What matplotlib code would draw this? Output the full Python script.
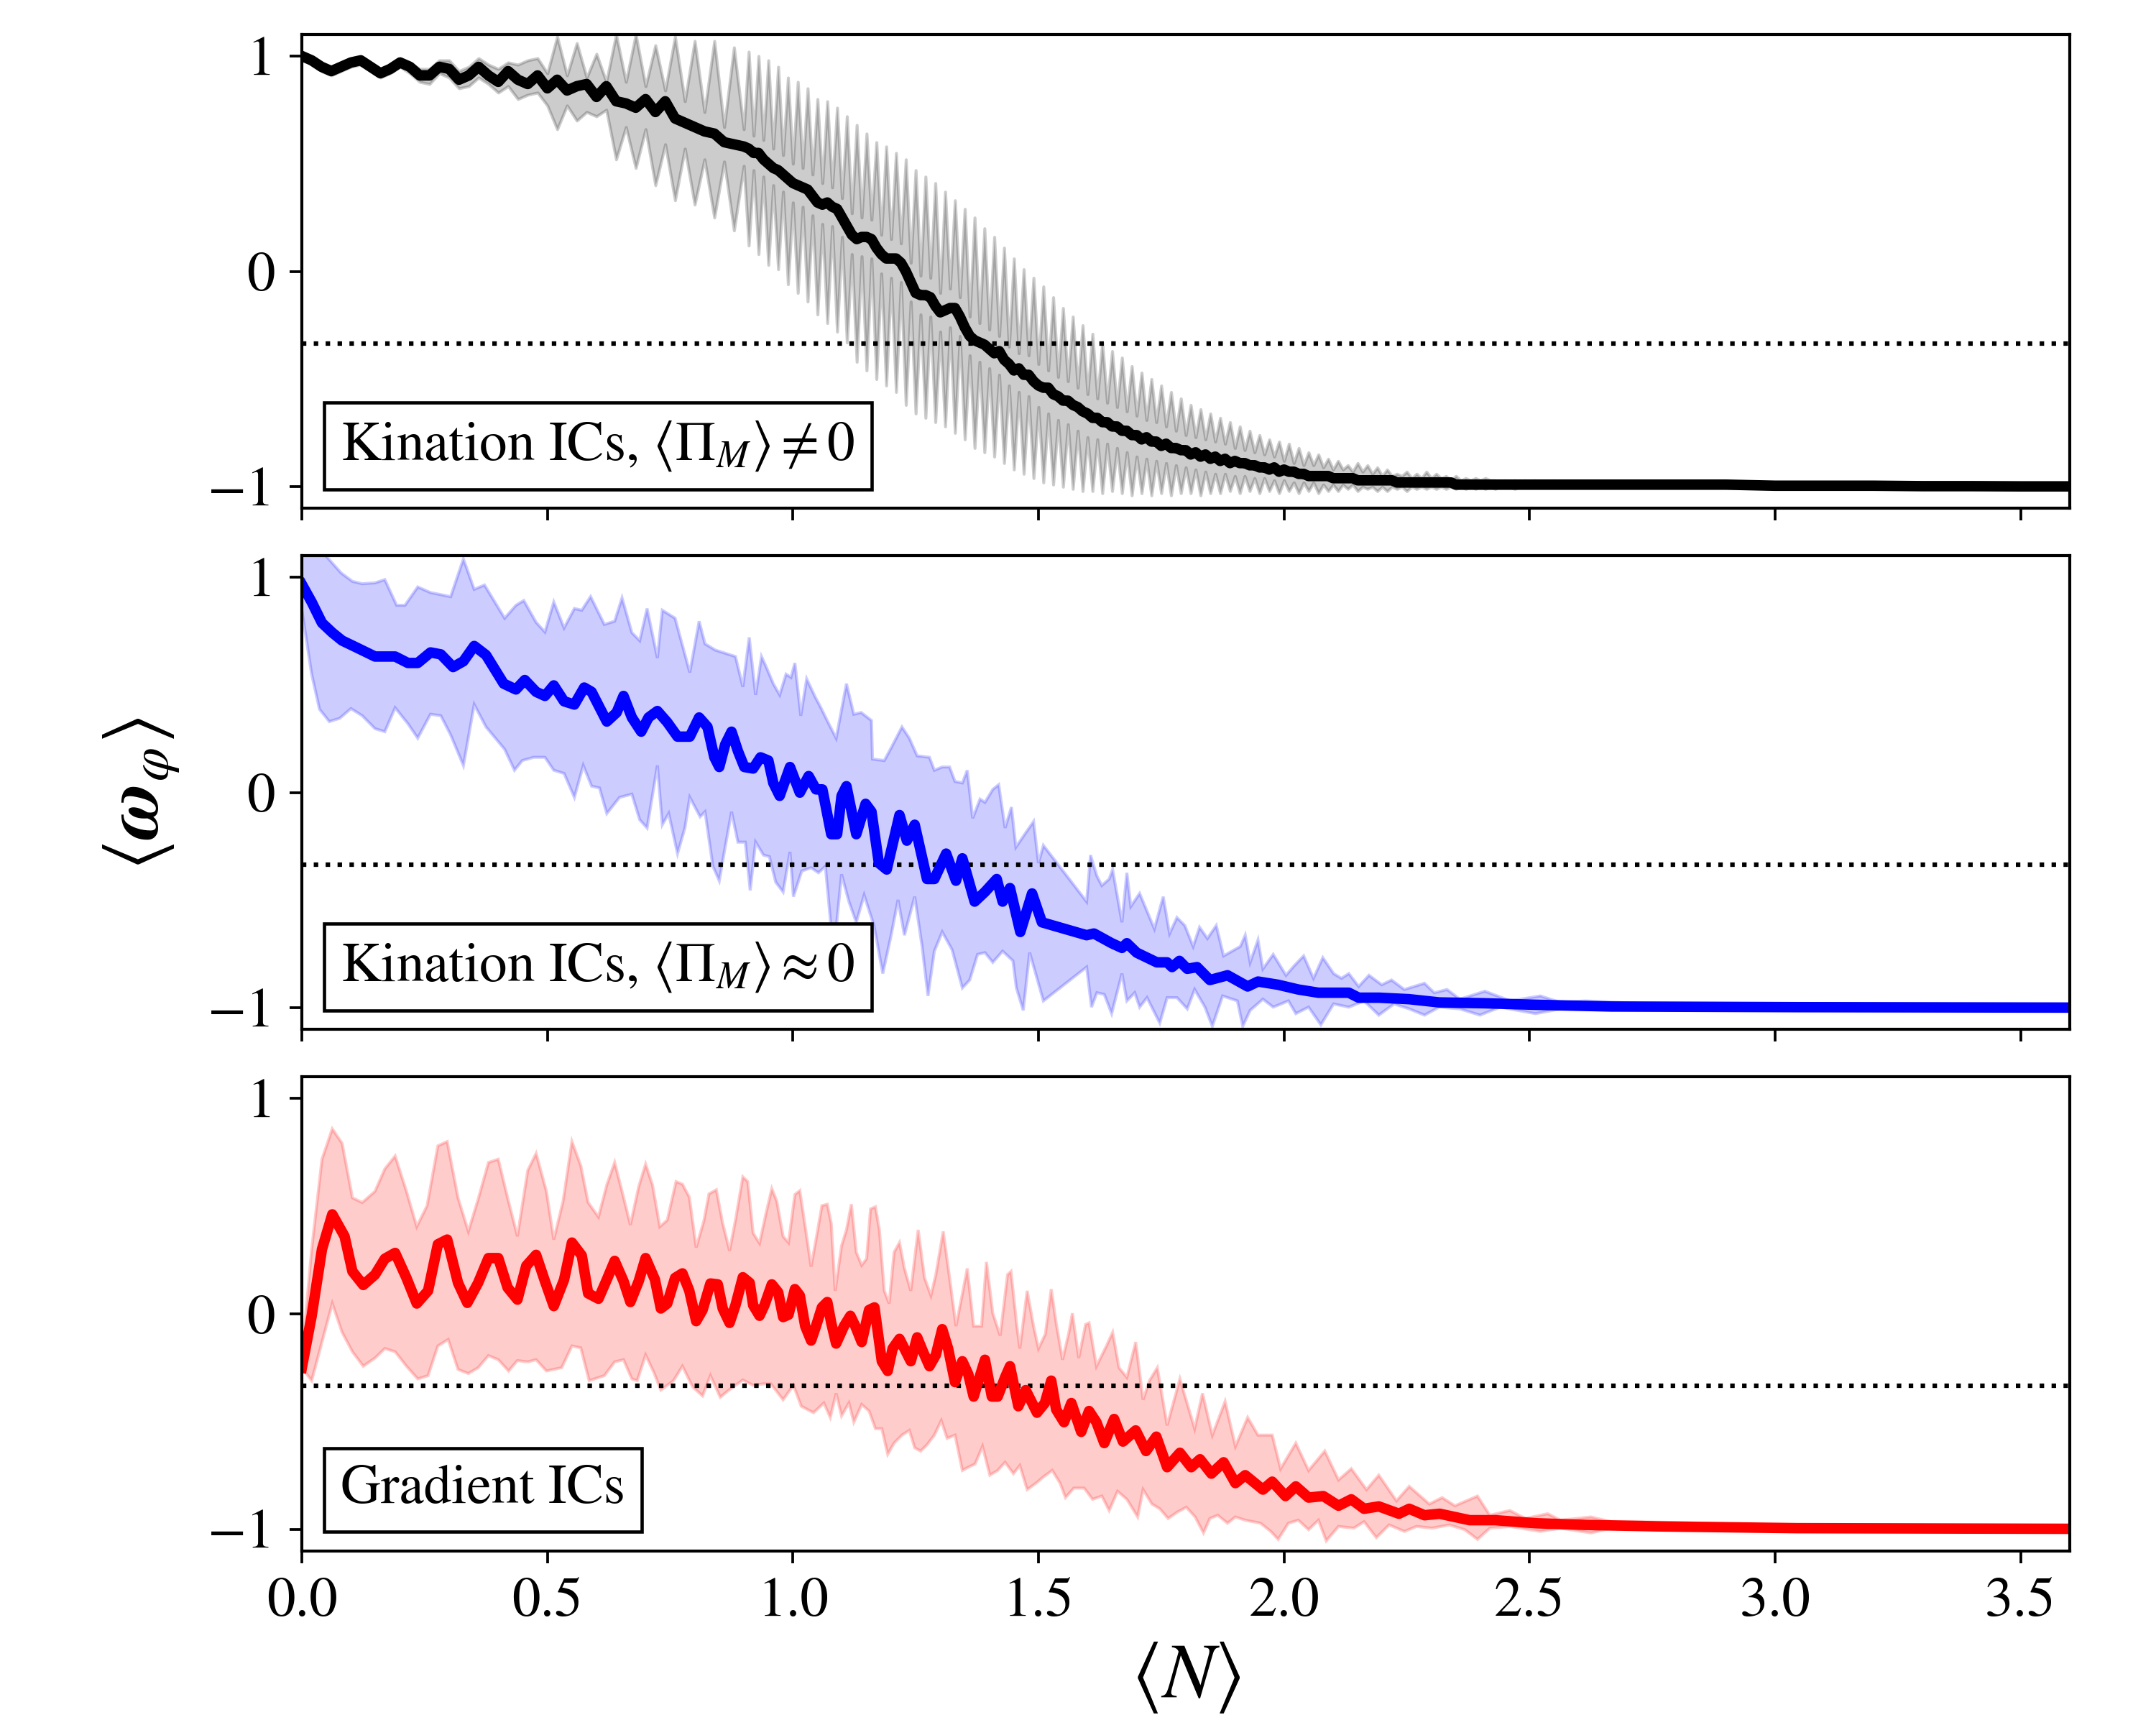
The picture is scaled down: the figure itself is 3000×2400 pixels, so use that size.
import numpy as np
import matplotlib
matplotlib.use('Agg')
from matplotlib import pyplot as plt

plt.rcParams['font.family'] = ['STIXGeneral', 'DejaVu Sans']
plt.rcParams['mathtext.fontset'] = 'stix'

# ---------------- top panel: kination ICs, <Pi_M> != 0 ----------------
# x grid: 0.00-0.88 every 0.02, 0.90-2.59 every 0.01, 2.6-3.6 every 0.1
top_x = np.concatenate([np.arange(45) * 0.02, np.arange(90, 260) / 100, np.arange(26, 37) / 10])

top_mean = [
    1.00, 0.98, 0.95, 0.93, 0.95, 0.97, 0.98, 0.95, 0.92, 0.94,
    0.97, 0.95, 0.91, 0.91, 0.95, 0.94, 0.89, 0.91, 0.95, 0.91,
    0.88, 0.93, 0.89, 0.87, 0.91,
    0.85, 0.89, 0.84, 0.86, 0.87, 0.81, 0.86, 0.79, 0.78, 0.76,
    0.80, 0.74, 0.79, 0.71, 0.69, 0.67, 0.65, 0.64, 0.60, 0.59,
    0.58, 0.57, 0.55, 0.55, 0.52, 0.50, 0.48, 0.47, 0.45, 0.43,
    0.41, 0.40, 0.39, 0.38, 0.35, 0.32, 0.31, 0.32, 0.30, 0.29,
    0.25, 0.21, 0.17, 0.15, 0.16, 0.16, 0.15, 0.11, 0.08, 0.06,
    0.06, 0.06, 0.04, 0.00, -0.05, -0.10, -0.11, -0.11, -0.12, -0.16,
    -0.19, -0.18, -0.17, -0.17, -0.21, -0.26, -0.30, -0.32, -0.33, -0.34,
    -0.36, -0.38, -0.37, -0.41, -0.43, -0.46, -0.45, -0.48, -0.48, -0.51,
    -0.53, -0.54, -0.54, -0.57, -0.58, -0.60, -0.60, -0.62, -0.63, -0.65,
    -0.66, -0.68, -0.68, -0.70, -0.70, -0.72, -0.72, -0.74, -0.74, -0.76,
    -0.76, -0.78, -0.77, -0.79, -0.79, -0.81, -0.80, -0.82, -0.82, -0.83,
    -0.83, -0.85, -0.84, -0.86, -0.85, -0.87, -0.86, -0.88, -0.87, -0.89,
    -0.88, -0.89, -0.89, -0.90, -0.90, -0.91, -0.91, -0.92, -0.91, -0.93,
    -0.92, -0.93, -0.93, -0.94, -0.94, -0.95, -0.95, -0.95, -0.95, -0.95,
    -0.96, -0.96, -0.96, -0.96, -0.96, -0.97, -0.97, -0.97, -0.97, -0.97,
    -0.97, -0.97, -0.97, -0.98, -0.98, -0.98, -0.98, -0.98, -0.98, -0.98,
    -0.98, -0.98, -0.98, -0.98, -0.98, -0.99, -0.99, -0.99, -0.99, -0.99,
    -0.99, -0.99, -0.99, -0.99, -0.99, -0.99, -0.99, -0.99, -0.99, -0.99,
    -0.99, -0.99, -0.99, -0.99, -0.99, -0.99, -0.99, -0.99, -0.99, -0.99,
    -0.99, -0.99, -0.99, -0.99, -0.995, -0.995, -0.995, -0.997, -0.997, -0.998, -0.998,
]

top_hi = [
    1.00, 0.99, 0.97, 0.95, 0.97, 0.99, 1.00, 0.97, 0.94, 0.96,
    0.99, 0.97, 0.94, 0.94, 0.98, 0.98, 0.93, 0.95, 0.99, 0.96,
    0.94, 0.97, 0.96, 0.98, 0.99,
    0.92, 1.09, 0.91, 1.06, 0.90, 1.01, 0.88, 1.10, 0.88, 1.10,
    0.86, 1.05, 0.84, 1.09, 0.79, 1.07, 0.74, 1.07, 0.67, 1.04,
    0.66, 1.02, 0.63, 1.00, 0.61, 0.98, 0.57, 0.95, 0.54, 0.90,
    0.50, 0.88, 0.48, 0.85, 0.45, 0.80, 0.41, 0.79, 0.39, 0.76,
    0.34, 0.72, 0.27, 0.68, 0.25, 0.64, 0.24, 0.60, 0.17, 0.58,
    0.15, 0.55, 0.13, 0.52, 0.04, 0.47, -0.02, 0.44, -0.03, 0.41,
    -0.10, 0.37, -0.08, 0.33, -0.12, 0.29, -0.21, 0.25, -0.24, 0.20,
    -0.27, 0.16, -0.30, 0.11, -0.35, 0.06, -0.38, 0.01, -0.39, -0.03,
    -0.43, -0.07, -0.46, -0.12, -0.49, -0.17, -0.51, -0.21, -0.54, -0.25,
    -0.57, -0.29, -0.59, -0.33, -0.61, -0.37, -0.63, -0.40, -0.65, -0.44,
    -0.67, -0.47, -0.69, -0.50, -0.70, -0.53, -0.72, -0.56, -0.74, -0.59,
    -0.76, -0.62, -0.77, -0.64, -0.78, -0.66, -0.79, -0.68, -0.80, -0.70,
    -0.82, -0.72, -0.83, -0.74, -0.84, -0.76, -0.85, -0.78, -0.86, -0.79,
    -0.88, -0.80, -0.89, -0.82, -0.90, -0.84, -0.90, -0.85, -0.91, -0.87,
    -0.92, -0.88, -0.92, -0.90, -0.93, -0.89, -0.93, -0.90, -0.94, -0.91,
    -0.95, -0.92, -0.95, -0.94, -0.95, -0.93, -0.96, -0.94, -0.96, -0.93,
    -0.96, -0.94, -0.96, -0.95, -0.97, -0.95, -0.97, -0.96, -0.97, -0.96,
    -0.97, -0.96, -0.97, -0.97, -0.98, -0.97, -0.98, -0.97, -0.98, -0.97,
    -0.98, -0.97, -0.98, -0.98, -0.98, -0.97, -0.98, -0.98, -0.98, -0.98,
    -0.98, -0.985, -0.985, -0.99, -0.99, -0.99, -0.993, -0.994, -0.995, -0.995, -0.996,
]

top_lo = [
    1.00, 0.97, 0.93, 0.91, 0.93, 0.95, 0.96, 0.93, 0.90, 0.92,
    0.95, 0.92, 0.88, 0.87, 0.92, 0.90, 0.85, 0.86, 0.90, 0.87,
    0.83, 0.86, 0.80, 0.82, 0.83,
    0.77, 0.66, 0.77, 0.70, 0.74, 0.72, 0.75, 0.52, 0.67, 0.48,
    0.66, 0.40, 0.59, 0.33, 0.57, 0.31, 0.52, 0.25, 0.51, 0.19,
    0.49, 0.12, 0.47, 0.08, 0.44, 0.03, 0.40, 0.01, 0.37, -0.06,
    0.32, -0.10, 0.30, -0.14, 0.26, -0.20, 0.22, -0.24, 0.21, -0.28,
    0.16, -0.33, 0.08, -0.42, 0.07, -0.46, 0.06, -0.50, -0.01, -0.53,
    -0.03, -0.56, -0.05, -0.62, -0.14, -0.66, -0.20, -0.68, -0.21, -0.70,
    -0.28, -0.72, -0.26, -0.75, -0.30, -0.78, -0.39, -0.82, -0.42, -0.84,
    -0.45, -0.86, -0.48, -0.89, -0.53, -0.92, -0.56, -0.94, -0.58, -0.96,
    -0.63, -0.98, -0.66, -0.99, -0.69, -1.00, -0.71, -1.01, -0.74, -1.02,
    -0.77, -1.02, -0.78, -1.03, -0.80, -1.02, -0.82, -1.03, -0.84, -1.04,
    -0.86, -1.03, -0.87, -1.04, -0.88, -1.03, -0.89, -1.04, -0.90, -1.03,
    -0.91, -1.03, -0.92, -1.04, -0.93, -1.03, -0.94, -1.03, -0.94, -1.02,
    -0.95, -1.03, -0.95, -1.02, -0.96, -1.03, -0.96, -1.02, -0.97, -1.03,
    -0.97, -1.02, -0.98, -1.03, -0.98, -1.02, -0.98, -1.03, -0.99, -1.02,
    -0.99, -1.02, -0.99, -1.01, -0.99, -1.02, -1.00, -1.01, -1.00, -1.02,
    -1.00, -1.02, -1.00, -1.01, -1.00, -1.02, -1.00, -1.01, -1.00, -1.01,
    -1.00, -1.01, -1.00, -1.01, -1.00, -1.01, -1.00, -1.01, -1.00, -1.01,
    -1.00, -1.01, -1.00, -1.01, -1.00, -1.00, -1.00, -1.01, -1.00, -1.00,
    -1.00, -1.00, -1.00, -1.00, -1.00, -1.00, -1.00, -1.00, -1.00, -1.00,
    -1.00, -1.00, -1.00, -1.00, -1.00, -1.00, -1.00, -1.00, -1.00, -1.00, -1.00,
]

# ---------------- middle panel: kination ICs, <Pi_M> ~ 0 ----------------
mid_mean = np.array([
    [0.00, 0.967], [0.02, 0.885], [0.041, 0.788], [0.062, 0.743], [0.082, 0.706], [0.113, 0.672],
    [0.149, 0.632], [0.19, 0.632], [0.216, 0.602], [0.236, 0.602], [0.262, 0.651], [0.283, 0.642],
    [0.308, 0.583], [0.329, 0.61], [0.351, 0.681], [0.375, 0.639], [0.411, 0.506], [0.436, 0.479],
    [0.454, 0.523], [0.477, 0.468], [0.495, 0.449], [0.513, 0.498], [0.534, 0.424], [0.555, 0.409],
    [0.575, 0.488], [0.59, 0.468], [0.621, 0.33], [0.641, 0.372], [0.655, 0.449], [0.672, 0.349],
    [0.691, 0.283], [0.706, 0.349], [0.724, 0.379], [0.744, 0.327], [0.765, 0.26], [0.79, 0.26],
    [0.809, 0.349], [0.826, 0.305], [0.84, 0.164], [0.85, 0.119], [0.862, 0.223], [0.875, 0.283],
    [0.888, 0.193], [0.901, 0.119], [0.919, 0.112], [0.934, 0.164], [0.95, 0.149], [0.96, 0.045],
    [0.973, -0.015], [0.994, 0.119], [1.014, 0.0], [1.032, 0.077], [1.047, 0.015], [1.06, 0.015],
    [1.078, -0.193], [1.09, -0.193], [1.099, -0.015], [1.109, 0.03], [1.129, -0.193], [1.148, -0.052],
    [1.16, -0.089], [1.175, -0.327], [1.191, -0.357], [1.217, -0.104], [1.232, -0.223], [1.248, -0.149],
    [1.273, -0.401], [1.288, -0.401], [1.312, -0.283], [1.332, -0.409], [1.345, -0.305], [1.37, -0.506],
    [1.391, -0.461], [1.415, -0.401], [1.427, -0.506], [1.442, -0.443], [1.463, -0.647], [1.487, -0.468],
    [1.507, -0.602], [1.598, -0.662], [1.613, -0.654], [1.649, -0.699], [1.67, -0.721], [1.68, -0.699],
    [1.7, -0.743], [1.741, -0.788], [1.762, -0.788], [1.772, -0.81], [1.787, -0.781], [1.803, -0.818],
    [1.823, -0.81], [1.849, -0.87], [1.885, -0.848], [1.926, -0.9], [1.947, -0.877], [1.988, -0.892],
    [2.029, -0.914], [2.07, -0.929], [2.132, -0.929], [2.152, -0.952], [2.193, -0.952], [2.255, -0.959],
    [2.316, -0.974], [2.409, -0.978], [2.512, -0.985], [2.666, -0.993], [3.044, -0.996], [3.6, -0.998],
])

mid_hi = np.array([
    [0.0, 1.15], [0.041, 1.12], [0.08, 1.02], [0.103, 0.981], [0.123, 0.97], [0.149, 0.974],
    [0.169, 0.989], [0.193, 0.87], [0.21, 0.87], [0.236, 0.955], [0.262, 0.929], [0.303, 0.91],
    [0.329, 1.085], [0.351, 0.944], [0.372, 0.964], [0.413, 0.81], [0.436, 0.87], [0.452, 0.892],
    [0.477, 0.791], [0.495, 0.746], [0.513, 0.885], [0.534, 0.765], [0.555, 0.855], [0.57, 0.847],
    [0.588, 0.91], [0.616, 0.781], [0.637, 0.796], [0.652, 0.904], [0.672, 0.743], [0.688, 0.706],
    [0.703, 0.855], [0.724, 0.625], [0.734, 0.847], [0.76, 0.81], [0.79, 0.558], [0.809, 0.796],
    [0.821, 0.691], [0.842, 0.662], [0.883, 0.632], [0.898, 0.491], [0.911, 0.721], [0.924, 0.454],
    [0.936, 0.632], [0.945, 0.587], [0.96, 0.506], [0.973, 0.454], [0.986, 0.55], [0.996, 0.535],
    [1.004, 0.602], [1.016, 0.357], [1.028, 0.528], [1.045, 0.446], [1.057, 0.394], [1.073, 0.32],
    [1.088, 0.253], [1.109, 0.506], [1.124, 0.364], [1.139, 0.372], [1.16, 0.335], [1.162, 0.156],
    [1.186, 0.149], [1.2, 0.208], [1.222, 0.305], [1.237, 0.253], [1.253, 0.171], [1.278, 0.164],
    [1.288, 0.104], [1.304, 0.119], [1.319, 0.119], [1.33, 0.052], [1.345, 0.045], [1.355, 0.104],
    [1.366, -0.119], [1.381, -0.03], [1.391, -0.045], [1.407, 0.015], [1.419, 0.037], [1.432, -0.164],
    [1.445, -0.067], [1.454, -0.253], [1.472, -0.193], [1.49, -0.134], [1.5, -0.327], [1.51, -0.245],
    [1.598, -0.506], [1.606, -0.29], [1.619, -0.387], [1.629, -0.431], [1.644, -0.401], [1.651, -0.357],
    [1.67, -0.602], [1.68, -0.372], [1.688, -0.528], [1.706, -0.468], [1.721, -0.55], [1.736, -0.632],
    [1.754, -0.483], [1.767, -0.654], [1.782, -0.58], [1.798, -0.617], [1.815, -0.714], [1.828, -0.625],
    [1.844, -0.677], [1.862, -0.617], [1.877, -0.758], [1.911, -0.714], [1.921, -0.662], [1.931, -0.788],
    [1.947, -0.684], [1.957, -0.818], [1.978, -0.751], [2.004, -0.848], [2.021, -0.803], [2.04, -0.758],
    [2.06, -0.862], [2.079, -0.766], [2.101, -0.84], [2.117, -0.862], [2.132, -0.84], [2.152, -0.9],
    [2.173, -0.848], [2.199, -0.892], [2.219, -0.87], [2.245, -0.914], [2.286, -0.885], [2.306, -0.929],
    [2.332, -0.914], [2.358, -0.959], [2.409, -0.922], [2.461, -0.967], [2.522, -0.944], [2.563, -0.974],
    [2.614, -0.967], [2.717, -0.978], [3.0, -0.99], [3.6, -0.995],
])

mid_lo = np.array([
    [0.0, 0.848], [0.02, 0.55], [0.036, 0.387], [0.056, 0.33], [0.077, 0.345], [0.1, 0.39],
    [0.123, 0.357], [0.149, 0.297], [0.169, 0.283], [0.19, 0.394], [0.216, 0.32], [0.236, 0.253],
    [0.262, 0.364], [0.283, 0.357], [0.303, 0.268], [0.329, 0.126], [0.351, 0.409], [0.375, 0.305],
    [0.413, 0.201], [0.433, 0.104], [0.449, 0.149], [0.472, 0.164], [0.495, 0.164], [0.513, 0.104],
    [0.534, 0.089], [0.555, -0.022], [0.573, 0.126], [0.59, 0.03], [0.606, 0.022], [0.621, -0.097],
    [0.647, -0.022], [0.672, -0.007], [0.688, -0.126], [0.703, -0.164], [0.724, 0.126], [0.734, -0.149],
    [0.747, -0.097], [0.765, -0.283], [0.78, -0.164], [0.79, -0.022], [0.811, -0.112], [0.821, -0.089],
    [0.837, -0.342], [0.85, -0.409], [0.862, -0.253], [0.875, -0.089], [0.888, -0.23], [0.903, -0.23],
    [0.913, -0.454], [0.924, -0.23], [0.94, -0.29], [0.952, -0.297], [0.965, -0.416], [0.98, -0.461],
    [0.994, -0.275], [1.001, -0.483], [1.018, -0.364], [1.037, -0.349], [1.052, -0.372], [1.066, -0.342],
    [1.078, -0.632], [1.088, -0.632], [1.099, -0.379], [1.114, -0.506], [1.129, -0.602], [1.145, -0.476],
    [1.165, -0.617], [1.183, -0.84], [1.2, -0.662], [1.214, -0.498], [1.227, -0.662], [1.248, -0.483],
    [1.263, -0.714], [1.275, -0.944], [1.288, -0.736], [1.304, -0.647], [1.324, -0.729], [1.345, -0.907],
    [1.36, -0.87], [1.376, -0.751], [1.391, -0.743], [1.407, -0.788], [1.427, -0.736], [1.448, -0.781],
    [1.455, -0.907], [1.469, -1.011], [1.482, -0.743], [1.497, -0.862], [1.51, -0.967], [1.598, -0.81],
    [1.608, -0.996], [1.619, -0.929], [1.634, -0.937], [1.649, -1.026], [1.67, -0.84], [1.68, -0.967],
    [1.696, -0.929], [1.706, -0.996], [1.721, -0.952], [1.747, -1.07], [1.762, -0.952], [1.782, -0.952],
    [1.803, -1.004], [1.818, -0.914], [1.839, -0.996], [1.854, -1.085], [1.875, -0.944], [1.905, -0.967],
    [1.916, -1.085], [1.931, -1.011], [1.957, -0.959], [1.978, -0.996], [2.009, -0.967], [2.024, -1.026],
    [2.05, -0.996], [2.075, -1.078], [2.101, -0.981], [2.132, -0.996], [2.163, -0.967], [2.193, -1.033],
    [2.224, -0.981], [2.255, -1.004], [2.286, -1.033], [2.316, -0.996], [2.358, -1.004], [2.399, -1.033],
    [2.44, -0.996], [2.512, -1.026], [2.563, -1.004], [2.7, -1.0], [3.6, -1.0],
])

# ---------------- bottom panel: gradient ICs ----------------
bot_mean = np.array([
    [0.0, -0.25], [0.02, -0.01], [0.041, 0.30], [0.062, 0.462], [0.087, 0.36], [0.103, 0.197],
    [0.125, 0.134], [0.149, 0.182], [0.169, 0.256], [0.19, 0.283], [0.213, 0.167], [0.234, 0.048],
    [0.257, 0.107], [0.277, 0.323], [0.296, 0.345], [0.318, 0.144], [0.337, 0.051], [0.359, 0.144],
    [0.38, 0.259], [0.4, 0.259], [0.419, 0.122], [0.439, 0.066], [0.457, 0.223], [0.477, 0.274],
    [0.495, 0.152], [0.513, 0.036], [0.534, 0.159], [0.55, 0.331], [0.57, 0.271], [0.583, 0.095],
    [0.604, 0.07], [0.621, 0.159], [0.637, 0.246], [0.655, 0.152], [0.669, 0.055], [0.686, 0.152],
    [0.7, 0.259], [0.719, 0.159], [0.731, 0.025], [0.744, 0.048], [0.76, 0.167], [0.775, 0.188],
    [0.789, 0.107], [0.803, -0.034], [0.816, 0.018], [0.832, 0.141], [0.847, 0.137], [0.857, 0.025],
    [0.871, -0.042], [0.883, 0.04], [0.898, 0.17], [0.912, 0.144], [0.919, 0.04], [0.932, -0.009],
    [0.942, 0.04], [0.957, 0.137], [0.97, 0.1], [0.98, -0.015], [0.991, -0.004], [1.004, 0.115],
    [1.014, 0.085], [1.025, -0.057], [1.037, -0.124], [1.047, -0.057], [1.059, 0.03], [1.07, 0.055],
    [1.078, -0.042], [1.088, -0.138], [1.104, -0.057], [1.117, -0.009], [1.127, -0.057], [1.14, -0.131],
    [1.155, 0.018], [1.166, 0.03], [1.181, -0.22], [1.193, -0.265], [1.203, -0.161], [1.217, -0.116],
    [1.227, -0.161], [1.24, -0.22], [1.253, -0.109], [1.265, -0.176], [1.278, -0.243], [1.291, -0.191],
    [1.304, -0.071], [1.316, -0.161], [1.33, -0.317], [1.345, -0.22], [1.357, -0.28], [1.368, -0.384],
    [1.378, -0.31], [1.391, -0.213], [1.405, -0.384], [1.417, -0.384], [1.432, -0.295], [1.442, -0.243],
    [1.459, -0.429], [1.474, -0.354], [1.497, -0.459], [1.513, -0.414], [1.526, -0.31], [1.536, -0.444],
    [1.552, -0.503], [1.567, -0.414], [1.587, -0.548], [1.603, -0.451], [1.618, -0.503], [1.634, -0.6],
    [1.654, -0.488], [1.672, -0.593], [1.698, -0.541], [1.719, -0.637], [1.74, -0.57], [1.762, -0.712],
    [1.788, -0.645], [1.811, -0.712], [1.829, -0.675], [1.852, -0.742], [1.877, -0.689], [1.901, -0.786],
    [1.921, -0.749], [1.957, -0.816], [1.976, -0.779], [2.003, -0.846], [2.024, -0.801], [2.05, -0.853],
    [2.08, -0.846], [2.111, -0.891], [2.137, -0.861], [2.163, -0.905], [2.193, -0.894], [2.234, -0.928],
    [2.255, -0.905], [2.286, -0.935], [2.317, -0.928], [2.378, -0.958], [2.43, -0.958], [2.512, -0.972],
    [2.614, -0.98], [2.769, -0.987], [3.044, -0.995], [3.6, -0.998],
])

bot_hi = np.array([
    [0.0, -0.205], [0.02, 0.30], [0.041, 0.718], [0.062, 0.859], [0.082, 0.792], [0.103, 0.539],
    [0.123, 0.517], [0.149, 0.569], [0.169, 0.673], [0.19, 0.733], [0.213, 0.569], [0.234, 0.405],
    [0.255, 0.502], [0.277, 0.78], [0.296, 0.8], [0.318, 0.539], [0.339, 0.383], [0.359, 0.532],
    [0.38, 0.703], [0.4, 0.718], [0.419, 0.539], [0.439, 0.36], [0.46, 0.666], [0.477, 0.745],
    [0.498, 0.569], [0.513, 0.345], [0.532, 0.524], [0.55, 0.8], [0.568, 0.688], [0.583, 0.517],
    [0.604, 0.45], [0.621, 0.599], [0.637, 0.703], [0.652, 0.569], [0.669, 0.413], [0.686, 0.591],
    [0.7, 0.695], [0.714, 0.599], [0.729, 0.405], [0.744, 0.435], [0.762, 0.614], [0.775, 0.602],
    [0.789, 0.542], [0.803, 0.308], [0.819, 0.435], [0.829, 0.557], [0.844, 0.576], [0.857, 0.42],
    [0.871, 0.293], [0.883, 0.435], [0.898, 0.636], [0.908, 0.614], [0.919, 0.375], [0.932, 0.328],
    [0.945, 0.465], [0.957, 0.581], [0.967, 0.524], [0.98, 0.36], [0.991, 0.331], [1.004, 0.554],
    [1.014, 0.572], [1.025, 0.405], [1.037, 0.219], [1.047, 0.345], [1.059, 0.502], [1.07, 0.509],
    [1.078, 0.42], [1.086, 0.107], [1.099, 0.316], [1.109, 0.39], [1.119, 0.509], [1.129, 0.286],
    [1.14, 0.226], [1.15, 0.256], [1.158, 0.487], [1.168, 0.497], [1.176, 0.39], [1.186, 0.107],
    [1.196, 0.048], [1.206, 0.286], [1.217, 0.331], [1.227, 0.211], [1.24, 0.107], [1.255, 0.39],
    [1.268, 0.167], [1.281, 0.085], [1.291, 0.182], [1.306, 0.383], [1.319, 0.167], [1.332, -0.057],
    [1.345, 0.092], [1.355, 0.211], [1.368, -0.057], [1.384, -0.057], [1.394, 0.241], [1.407, 0.003],
    [1.422, -0.101], [1.437, 0.182], [1.444, 0.197], [1.456, -0.057], [1.462, -0.161], [1.477, 0.107],
    [1.49, -0.057], [1.5, -0.161], [1.514, -0.094], [1.526, 0.115], [1.536, -0.042], [1.549, -0.213],
    [1.562, -0.086], [1.569, 0.003], [1.582, -0.205], [1.596, -0.049], [1.603, -0.042], [1.618, -0.243],
    [1.639, -0.146], [1.651, -0.086], [1.664, -0.25], [1.68, -0.295], [1.698, -0.131], [1.713, -0.399],
    [1.726, -0.31], [1.742, -0.25], [1.762, -0.518], [1.788, -0.302], [1.818, -0.533], [1.834, -0.369],
    [1.854, -0.563], [1.88, -0.407], [1.901, -0.615], [1.926, -0.481], [1.947, -0.563], [1.976, -0.563],
    [1.993, -0.719], [2.024, -0.6], [2.05, -0.727], [2.083, -0.637], [2.111, -0.771], [2.137, -0.719],
    [2.168, -0.816], [2.193, -0.749], [2.229, -0.868], [2.255, -0.801], [2.296, -0.883], [2.322, -0.853],
    [2.348, -0.891], [2.394, -0.846], [2.419, -0.935], [2.46, -0.913], [2.491, -0.95], [2.537, -0.928],
    [2.563, -0.958], [2.625, -0.943], [2.666, -0.965], [2.727, -0.965], [3.0, -0.98], [3.6, -0.99],
])

bot_lo = np.array([
    [0.0, -0.25], [0.02, -0.31], [0.041, -0.131], [0.062, 0.048], [0.082, -0.086], [0.103, -0.176],
    [0.125, -0.243], [0.149, -0.205], [0.169, -0.161], [0.19, -0.176], [0.213, -0.243], [0.236, -0.302],
    [0.257, -0.287], [0.277, -0.149], [0.298, -0.119], [0.318, -0.258], [0.339, -0.277], [0.359, -0.25],
    [0.38, -0.194], [0.4, -0.213], [0.421, -0.265], [0.439, -0.217], [0.46, -0.223], [0.477, -0.213],
    [0.498, -0.265], [0.529, -0.25], [0.55, -0.149], [0.568, -0.158], [0.585, -0.31], [0.616, -0.287],
    [0.637, -0.223], [0.655, -0.213], [0.672, -0.302], [0.683, -0.31], [0.7, -0.191], [0.717, -0.273],
    [0.731, -0.354], [0.757, -0.31], [0.775, -0.243], [0.796, -0.34], [0.816, -0.381], [0.832, -0.287],
    [0.852, -0.387], [0.868, -0.357], [0.898, -0.307], [0.919, -0.332], [0.94, -0.325], [0.955, -0.325],
    [0.98, -0.399], [1.001, -0.332], [1.017, -0.429], [1.042, -0.459], [1.063, -0.414], [1.076, -0.481],
    [1.088, -0.369], [1.099, -0.474], [1.114, -0.414], [1.124, -0.503], [1.14, -0.421], [1.155, -0.451],
    [1.168, -0.533], [1.181, -0.533], [1.193, -0.652], [1.206, -0.6], [1.222, -0.563], [1.237, -0.541],
    [1.248, -0.622], [1.26, -0.637], [1.273, -0.608], [1.288, -0.563], [1.302, -0.496], [1.314, -0.578],
    [1.33, -0.563], [1.345, -0.727], [1.357, -0.712], [1.371, -0.697], [1.386, -0.615], [1.401, -0.749],
    [1.417, -0.727], [1.432, -0.689], [1.449, -0.742], [1.462, -0.704], [1.477, -0.816], [1.495, -0.786],
    [1.51, -0.757], [1.528, -0.727], [1.544, -0.786], [1.555, -0.853], [1.572, -0.809], [1.593, -0.809],
    [1.61, -0.861], [1.629, -0.846], [1.644, -0.913], [1.661, -0.824], [1.68, -0.861], [1.702, -0.943],
    [1.713, -0.816], [1.731, -0.883], [1.747, -0.905], [1.764, -0.95], [1.783, -0.92], [1.801, -0.898],
    [1.819, -0.943], [1.836, -1.017], [1.849, -0.95], [1.865, -0.935], [1.885, -0.972], [1.901, -0.943],
    [1.921, -0.958], [1.937, -0.965], [1.952, -0.972], [1.973, -1.01], [1.988, -1.047], [2.009, -0.972],
    [2.029, -0.958], [2.05, -1.002], [2.07, -0.958], [2.086, -1.054], [2.111, -0.987], [2.142, -0.995],
    [2.163, -0.965], [2.188, -1.039], [2.214, -0.98], [2.245, -1.01], [2.27, -0.987], [2.301, -0.995],
    [2.337, -0.98], [2.368, -1.002], [2.394, -1.047], [2.419, -0.995], [2.46, -0.987], [2.522, -1.01],
    [2.563, -0.995], [2.625, -1.017], [2.666, -0.995], [2.8, -1.0], [3.6, -1.0],
])

labels = [r'Kination ICs, $\langle\Pi_M\rangle \neq 0$',
          r'Kination ICs, $\langle\Pi_M\rangle \approx 0$',
          'Gradient ICs']
w_eos = -1.0 / 3.0

fig, axes = plt.subplots(3, 1, sharex=True, figsize=(10, 8), dpi=300)
fig.subplots_adjust(left=0.14, right=0.96, top=0.98, bottom=0.101, hspace=0.1)

#top panel uses a common grid for the band
axes[0].fill_between(top_x, top_lo, top_hi, color='k', alpha=0.2, lw=1.0)
axes[0].axhline(w_eos, color='k', ls=':', lw=1.5)
axes[0].plot(top_x, top_mean, color='k', lw=3.5, solid_joinstyle='round')

#other two panels: band polygon from upper and lower edges
for ax, m, hi, lo, c in [(axes[1], mid_mean, mid_hi, mid_lo, 'b'),
                         (axes[2], bot_mean, bot_hi, bot_lo, 'r')]:
    px = np.concatenate([hi[:, 0], lo[::-1, 0]])
    py = np.concatenate([hi[:, 1], lo[::-1, 1]])
    ax.fill(px, py, color=c, alpha=0.2, lw=1.0)
    ax.axhline(w_eos, color='k', ls=':', lw=1.5)
    ax.plot(m[:, 0], m[:, 1], color=c, lw=3.5, solid_joinstyle='round')

for ax, lab in zip(axes, labels):
    ax.set_xlim(0, 3.6)
    ax.set_ylim(-1.1, 1.1)
    ax.set_yticks([-1, 0, 1])
    ax.set_xticks([0, 0.5, 1.0, 1.5, 2.0, 2.5, 3.0, 3.5])
    ax.tick_params(labelsize=19, length=4, width=0.9, pad=5)
    for s in ax.spines.values():
        s.set_linewidth(1.0)
    ax.text(0.022, 0.075, lab, transform=ax.transAxes, fontsize=18.5,
            ha='left', va='bottom',
            bbox=dict(boxstyle='square,pad=0.3', fc='white', ec='black', lw=1.1))

axes[2].set_xticklabels(['0.0', '0.5', '1.0', '1.5', '2.0', '2.5', '3.0', '3.5'])
axes[2].set_xlabel(r'$\langle N\rangle$', fontsize=26, labelpad=4)
fig.text(0.066, 0.54, r'$\langle\boldsymbol{\omega}_{\varphi}\rangle$', fontsize=26,
         rotation=90, ha='center', va='center')

fig.savefig('out.png', dpi=300)
